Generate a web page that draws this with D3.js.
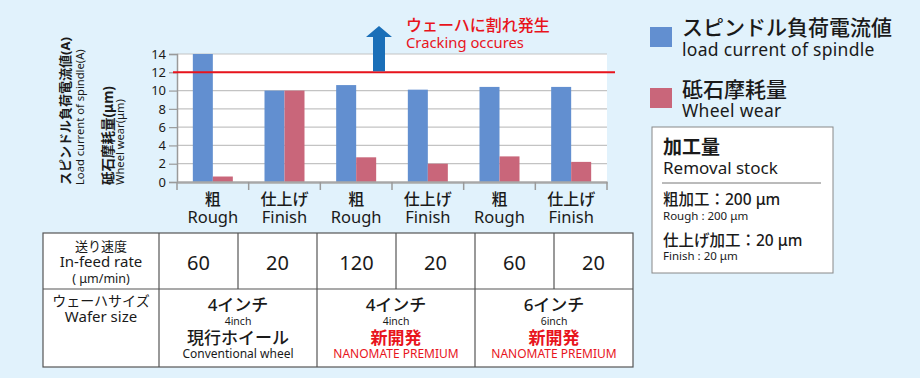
<!DOCTYPE html>
<html>
<head>
<meta charset="utf-8">
<script src="https://cdn.jsdelivr.net/npm/d3@7"></script>
<style>
  body { margin: 0; background: #e1f2fc; }
  svg { display: block; font-family: "Noto Sans", "Noto Sans CJK JP", sans-serif; }
</style>
</head>
<body>
<div class="canvas"></div>
<script>
// data
const categories = ['粗', '仕上げ', '粗', '仕上げ', '粗', '仕上げ'];
const categoriesEn = ['Rough', 'Finish', 'Rough', 'Finish', 'Rough', 'Finish'];
const spindleCurrent = [14, 10.0, 10.6, 10.1, 10.4, 10.4];
const wheelWear = [0.6, 10.0, 2.7, 2.0, 2.8, 2.2];
const yTicks = [0, 2, 4, 6, 8, 10, 12, 14];
const crackLimit = 12;
const feedRate = [60, 20, 120, 20, 60, 20];
const waferSize = ['4インチ', '4インチ', '6インチ'];
const waferSizeEn = ['4inch', '4inch', '6inch'];
const wheelName = ['現行ホイール', '新開発', '新開発'];
const wheelNameEn = ['Conventional wheel', 'NANOMATE PREMIUM', 'NANOMATE PREMIUM'];
const wheelIsNew = [false, true, true];

const blue = '#628fd0';
const pink = '#c9667a';
const red = '#e8141c';
const ink = '#1a1a1a';

const svg = d3.select('.canvas')
  .append('svg')
   .attr('width', 920)
   .attr('height', 378);

// plot area
const plot = { left: 177, right: 607, top: 54, bottom: 182 };

const y = d3.scaleLinear()
  .domain([0, 14])
  .range([plot.bottom, plot.top]);

const x = d3.scaleBand()
  .domain(d3.range(categories.length))
  .range([plot.left, plot.right]);

const x1 = d3.scaleBand()
  .domain(['current', 'wear'])
  .range([x.bandwidth() / 2 - 20, x.bandwidth() / 2 + 20]);

svg.append('rect')
  .attr('x', plot.left)
  .attr('y', plot.top)
  .attr('width', plot.right - plot.left)
  .attr('height', plot.bottom - plot.top)
  .attr('fill', '#fff');

// grid lines
svg.append('g')
  .selectAll('line')
  .data(yTicks.filter(d => d > 0))
  .join('line')
   .attr('x1', plot.left)
   .attr('x2', plot.right)
   .attr('y1', d => y(d))
   .attr('y2', d => y(d))
   .attr('stroke', '#c3c3c3')
   .attr('stroke-width', 1.2);

// y axis
const yAxis = d3.axisLeft(y).tickValues(yTicks).tickSize(8).tickPadding(3);
const yAxisGroup = svg.append('g')
  .attr('transform', `translate(${plot.left},0)`)
  .call(yAxis);
yAxisGroup.select('.domain').attr('stroke', '#9a9a9a').attr('stroke-width', 1.5);
yAxisGroup.selectAll('.tick line').attr('stroke', '#9a9a9a').attr('stroke-width', 1.2);
yAxisGroup.selectAll('text')
  .attr('font-size', '13px')
  .attr('fill', ink)
  .style('font-family', '"Noto Sans", sans-serif');

// bars
const groups = svg.append('g')
  .selectAll('g')
  .data(categories.map((c, i) => i))
  .join('g')
   .attr('transform', i => `translate(${x(i)},0)`);

groups.append('rect')
  .attr('x', x1('current'))
  .attr('width', x1.bandwidth())
  .attr('y', i => y(spindleCurrent[i]))
  .attr('height', i => y(0) - y(spindleCurrent[i]))
  .attr('fill', blue);

groups.append('rect')
  .attr('x', x1('wear'))
  .attr('width', x1.bandwidth())
  .attr('y', i => y(wheelWear[i]))
  .attr('height', i => y(0) - y(wheelWear[i]))
  .attr('fill', pink);

// x axis
const xAxis = d3.axisBottom(x).tickSize(0).tickFormat('');
const xAxisGroup = svg.append('g')
  .attr('transform', `translate(0,${plot.bottom})`)
  .call(xAxis);
xAxisGroup.select('.domain').attr('stroke', '#a8a8a8').attr('stroke-width', 2.5);
xAxisGroup.append('g')
  .selectAll('line')
  .data(d3.range(categories.length + 1))
  .join('line')
   .attr('x1', i => plot.left + i * x.step())
   .attr('x2', i => plot.left + i * x.step())
   .attr('y1', 0)
   .attr('y2', 8)
   .attr('stroke', '#9a9a9a')
   .attr('stroke-width', 1.5);

groups.append('text')
  .attr('x', x.bandwidth() / 2)
  .attr('y', 205)
  .attr('text-anchor', 'middle')
  .attr('font-size', '16px')
  .attr('font-weight', 500)
  .attr('fill', ink)
  .text(i => categories[i]);
groups.append('text')
  .attr('x', x.bandwidth() / 2)
  .attr('y', 223)
  .attr('text-anchor', 'middle')
  .attr('font-size', '16.5px')
  .attr('fill', ink)
  .text(i => categoriesEn[i]);

// crack limit line
svg.append('line')
  .attr('x1', 173)
  .attr('x2', 615)
  .attr('y1', y(crackLimit))
  .attr('y2', y(crackLimit))
  .attr('stroke', red)
  .attr('stroke-width', 2);

// arrow
const ax = 379;
svg.append('path')
  .attr('d', `M${ax - 6},${y(crackLimit) - 1} L${ax - 6},37 L${ax - 13},37 L${ax},26 L${ax + 13},37 L${ax + 6},37 L${ax + 6},${y(crackLimit) - 1} Z`)
  .attr('fill', '#1a6fb8');

svg.append('text')
  .attr('x', 406).attr('y', 31)
  .attr('font-size', '16px')
  .attr('font-weight', 500)
  .attr('fill', red)
  .text('ウェーハに割れ発生');
svg.append('text')
  .attr('x', 406).attr('y', 48)
  .attr('font-size', '14.8px')
  .attr('fill', red)
  .text('Cracking occures');

// y axis titles (rotated)
const yTitles = [
  { t: 'スピンドル負荷電流値(A)', x: 70, size: 13, w: 700 },
  { t: 'Load current of spindle(A)', x: 84, size: 11.2, w: 400 },
  { t: '砥石摩耗量(μm)', x: 113, size: 13.5, w: 700 },
  { t: 'Wheel wear(μm)', x: 124, size: 11.2, w: 400 }
];
svg.append('g')
  .selectAll('text')
  .data(yTitles)
  .join('text')
   .attr('transform', d => `translate(${d.x},185) rotate(-90)`)
   .attr('font-size', d => d.size + 'px')
   .attr('font-weight', d => d.w)
   .attr('fill', ink)
   .text(d => d.t);

// legend
const legend = svg.append('g');
legend.append('rect').attr('x', 650).attr('y', 27).attr('width', 22).attr('height', 20).attr('fill', blue);
legend.append('rect').attr('x', 650).attr('y', 88).attr('width', 22).attr('height', 20).attr('fill', pink);
legend.append('text').attr('x', 682).attr('y', 35).attr('font-size', '21px').attr('font-weight', 500).attr('fill', ink).text('スピンドル負荷電流値');
legend.append('text').attr('x', 682).attr('y', 56).attr('font-size', '17.5px').attr('letter-spacing', '0.3px').attr('fill', ink).text('load current of spindle');
legend.append('text').attr('x', 682).attr('y', 97).attr('font-size', '21px').attr('font-weight', 500).attr('fill', ink).text('砥石摩耗量');
legend.append('text').attr('x', 682).attr('y', 117).attr('font-size', '17.5px').attr('letter-spacing', '0.3px').attr('fill', ink).text('Wheel wear');

// removal stock box
const box = svg.append('g');
box.append('rect')
  .attr('x', 652).attr('y', 127).attr('width', 181).attr('height', 146)
  .attr('fill', '#fff').attr('stroke', '#888').attr('stroke-width', 1);
box.append('text').attr('x', 663).attr('y', 154).attr('font-size', '19px').attr('font-weight', 700).attr('fill', ink).text('加工量');
box.append('text').attr('x', 663).attr('y', 174).attr('font-size', '17px').attr('fill', ink).text('Removal stock');
box.append('line').attr('x1', 662).attr('x2', 821).attr('y1', 183).attr('y2', 183).attr('stroke', '#777');
box.append('text').attr('x', 663).attr('y', 205).attr('font-size', '15.5px').attr('font-weight', 500).attr('fill', ink).text('粗加工：200 μm');
box.append('text').attr('x', 663).attr('y', 220).attr('font-size', '11.5px').attr('fill', ink).text('Rough : 200 μm');
box.append('text').attr('x', 663).attr('y', 246).attr('font-size', '15.5px').attr('font-weight', 500).attr('fill', ink).text('仕上げ加工：20 μm');
box.append('text').attr('x', 663).attr('y', 260).attr('font-size', '11.5px').attr('fill', ink).text('Finish  : 20 μm');

// table
const table = { left: 43, col0: 159, right: 633, top: 233, mid: 289, bottom: 367 };
const tx = d3.scaleBand()
  .domain(d3.range(feedRate.length))
  .range([table.col0, table.right]);
const tg = d3.scaleBand()
  .domain(d3.range(waferSize.length))
  .range([table.col0, table.right]);

const tab = svg.append('g');
tab.append('rect')
  .attr('x', table.left).attr('y', table.top)
  .attr('width', table.right - table.left).attr('height', table.bottom - table.top)
  .attr('fill', '#fff').attr('stroke', '#555').attr('stroke-width', 1.2);
tab.append('line')
  .attr('x1', table.left).attr('x2', table.right)
  .attr('y1', table.mid).attr('y2', table.mid)
  .attr('stroke', '#555').attr('stroke-width', 1.2);
tab.append('g')
  .selectAll('line')
  .data(d3.range(feedRate.length))
  .join('line')
   .attr('x1', i => tx(i)).attr('x2', i => tx(i))
   .attr('y1', table.top)
   .attr('y2', i => i % 2 === 0 ? table.bottom : table.mid)
   .attr('stroke', '#555').attr('stroke-width', 1.2);

const hx = (table.left + table.col0) / 2;
tab.append('text').attr('x', hx).attr('y', 251).attr('text-anchor', 'middle').attr('font-size', '13px').attr('fill', ink).text('送り速度');
tab.append('text').attr('x', hx).attr('y', 267).attr('text-anchor', 'middle').attr('font-size', '15px').attr('fill', ink).text('In-feed rate');
tab.append('text').attr('x', hx).attr('y', 283).attr('text-anchor', 'middle').attr('font-size', '12.5px').attr('fill', ink).text('( μm/min)');
tab.append('text').attr('x', hx).attr('y', 306).attr('text-anchor', 'middle').attr('font-size', '14px').attr('fill', ink).text('ウェーハサイズ');
tab.append('text').attr('x', hx).attr('y', 322).attr('text-anchor', 'middle').attr('font-size', '15px').attr('fill', ink).text('Wafer size');

tab.append('g')
  .selectAll('text')
  .data(feedRate)
  .join('text')
   .attr('x', (d, i) => tx(i) + tx.bandwidth() / 2)
   .attr('y', 270)
   .attr('text-anchor', 'middle')
   .attr('font-size', '20px')
   .attr('fill', ink)
   .text(d => d);

const cells = tab.append('g')
  .selectAll('g')
  .data(d3.range(waferSize.length))
  .join('g')
   .attr('transform', i => `translate(${tg(i) + tg.bandwidth() / 2},0)`)
   .attr('text-anchor', 'middle');
cells.append('text').attr('y', 311).attr('font-size', '17px').attr('font-weight', 500).attr('fill', ink).text(i => waferSize[i]);
cells.append('text').attr('y', 325).attr('font-size', '10.5px').attr('fill', ink).text(i => waferSizeEn[i]);
cells.append('text').attr('y', 344).attr('font-size', '17px')
  .attr('font-weight', i => wheelIsNew[i] ? 700 : 500)
  .attr('fill', i => wheelIsNew[i] ? red : ink).text(i => wheelName[i]);
cells.append('text').attr('y', 358).attr('font-size', '12px')
  .attr('fill', i => wheelIsNew[i] ? red : ink).text(i => wheelNameEn[i]);
</script>
</body>
</html>
